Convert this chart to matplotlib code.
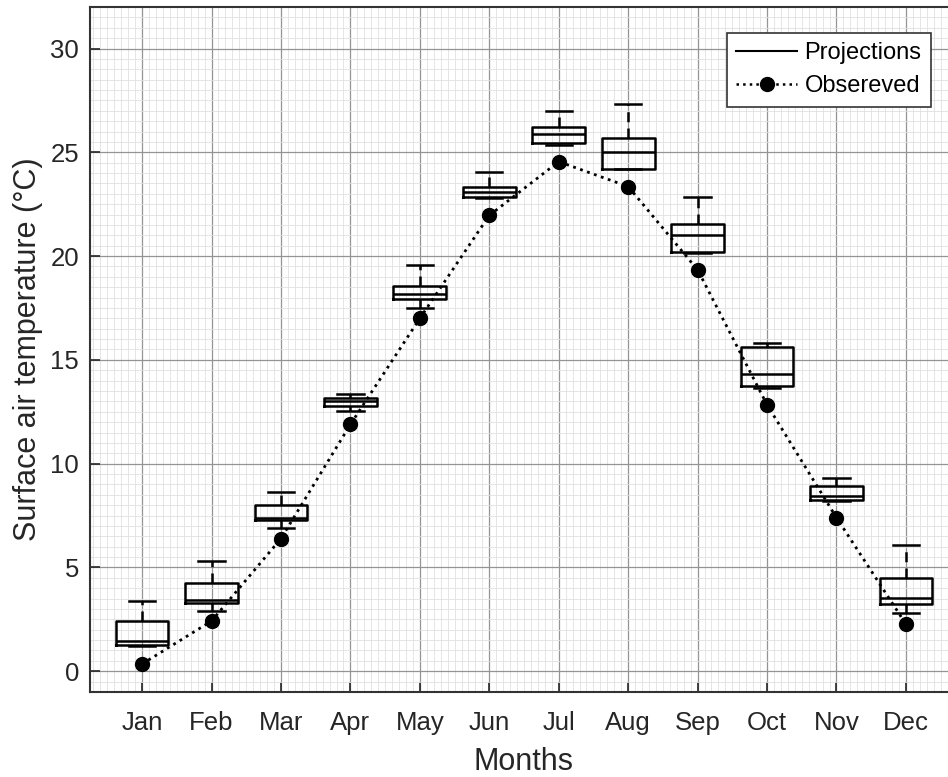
import matplotlib
matplotlib.use('Agg')
import matplotlib.pyplot as plt
from matplotlib.ticker import MultipleLocator
from matplotlib.lines import Line2D

months = ['Jan', 'Feb', 'Mar', 'Apr', 'May', 'Jun',
          'Jul', 'Aug', 'Sep', 'Oct', 'Nov', 'Dec']

# projection spread per month (whisker ends, quartiles, median)
whis_lo = [1.22, 2.92, 6.91, 12.55, 17.52, 22.80, 25.37, 24.18, 20.17, 13.64, 8.21, 2.82]
q1 = [1.27, 3.30, 7.29, 12.79, 17.92, 22.85, 25.47, 24.21, 20.22, 13.72, 8.25, 3.22]
med = [1.48, 3.43, 7.40, 13.00, 18.16, 23.09, 25.88, 25.01, 21.00, 14.34, 8.43, 3.54]
q3 = [2.44, 4.26, 8.03, 13.17, 18.54, 23.32, 26.23, 25.69, 21.55, 15.61, 8.91, 4.50]
whis_hi = [3.38, 5.30, 8.64, 13.38, 19.57, 24.05, 27.00, 27.31, 22.84, 15.80, 9.33, 6.09]

observed = [0.35, 2.42, 6.39, 11.89, 17.00, 21.96, 24.55, 23.35, 19.34, 12.84, 7.40, 2.27]

plt.rcParams['font.family'] = ['Liberation Sans', 'DejaVu Sans']

fig = plt.figure(figsize=(9.48, 7.77), dpi=100)
ax = fig.add_axes([90 / 948, 1 - 692 / 777, (958 - 90) / 948, (692 - 7) / 777])

x = list(range(1, 13))
stats = []
for i in range(12):
    stats.append(dict(whislo=whis_lo[i], q1=q1[i], med=med[i], q3=q3[i],
                      whishi=whis_hi[i], fliers=[]))

ax.bxp(stats, positions=x, widths=0.76, capwidths=0.38, showfliers=False,
       boxprops=dict(color='k', lw=1.8),
       medianprops=dict(color='k', lw=1.8),
       whiskerprops=dict(color='k', lw=1.8, ls=(0, (4, 2.5))),
       capprops=dict(color='k', lw=1.8),
       zorder=3)

ax.plot(x, observed, ':', color='k', lw=2, marker='o', ms=10, zorder=4)

ax.set_xlim(0.25, 12.75)
ax.set_ylim(-1, 32)
ax.set_xticks(x)
ax.set_xticklabels(months)
ax.set_yticks(range(0, 31, 5))
ax.xaxis.set_minor_locator(MultipleLocator(0.1))
ax.yaxis.set_minor_locator(MultipleLocator(0.5))

ax.set_axisbelow(True)
ax.grid(which='major', color='0.58', lw=0.9)
ax.grid(which='minor', color='0.88', lw=0.6)

ax.tick_params(which='major', direction='in', length=7, width=1.2,
               color='0.15', labelsize=18.5, labelcolor='0.15', pad=14)
ax.tick_params(which='minor', length=0)
ax.tick_params(axis='y', pad=8)
for s in ax.spines.values():
    s.set_color('0.2')
    s.set_linewidth(1.5)

ax.set_xlabel('Months', fontsize=22, color='0.15', labelpad=8)
ax.set_ylabel('Surface air temperature (°C)', fontsize=22, color='0.15', labelpad=5)

handles = [Line2D([], [], color='k', lw=1.5),
           Line2D([], [], color='k', ls=':', lw=1.8, marker='o', ms=10)]
leg = ax.legend(handles, ['Projections', 'Obsereved'], loc='upper right',
                bbox_to_anchor=(931 / 948, 1 - 33 / 777), bbox_transform=fig.transFigure,
                borderaxespad=0, fontsize=17, fancybox=False, framealpha=1,
                edgecolor='0.2', handlelength=2.6, handletextpad=0.3,
                labelspacing=0.45, borderpad=0.4)
leg.get_frame().set_linewidth(1.2)

fig.savefig('out.png', dpi=100)
